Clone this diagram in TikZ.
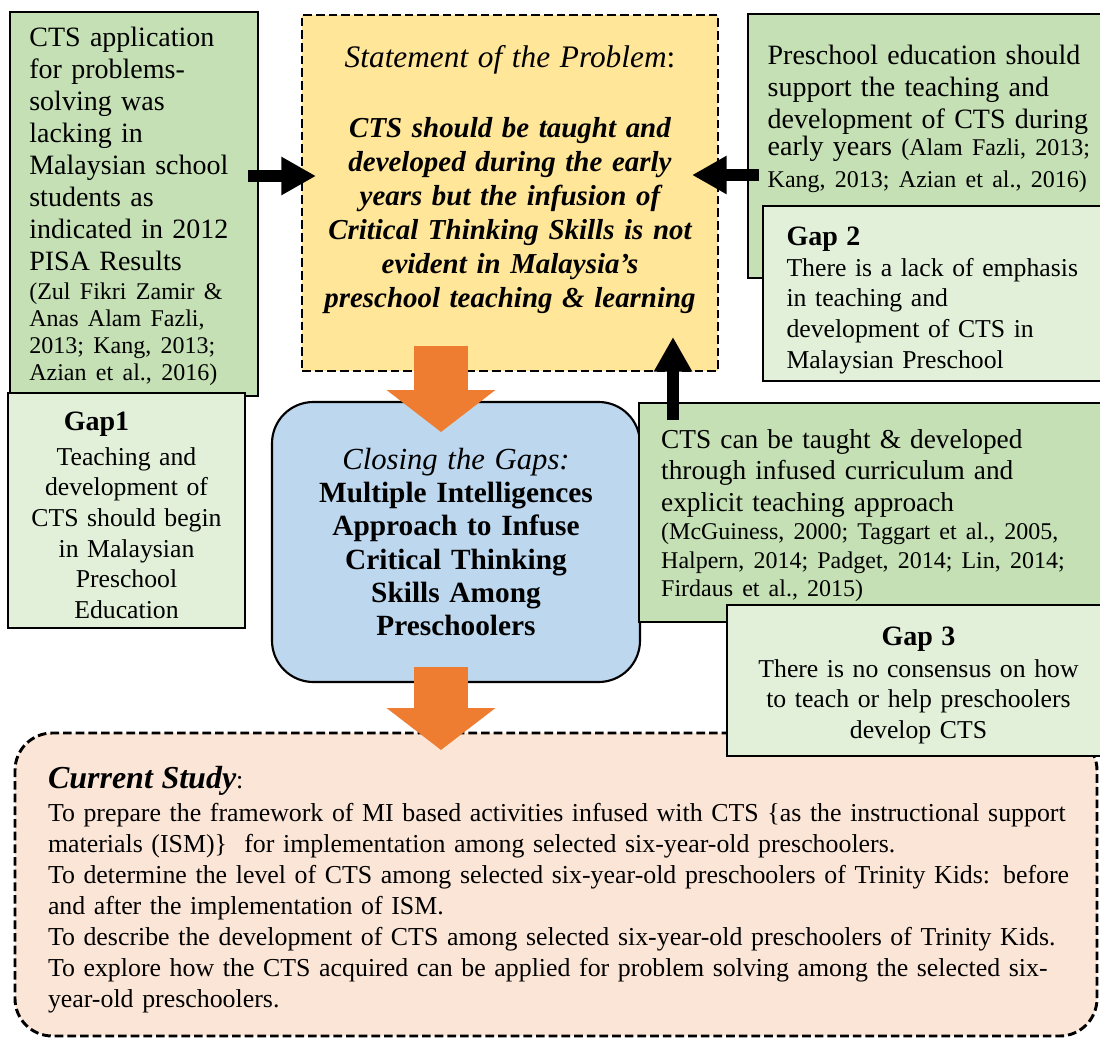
\documentclass[tikz,border=0pt]{standalone}
\usepackage{fontspec}
\setmainfont{Liberation Serif}
\usetikzlibrary{arrows.meta}

\definecolor{findgreen}{HTML}{C5E0B4}
\definecolor{gapgreen}{HTML}{E2F0D9}
\definecolor{problemyellow}{HTML}{FFE699}
\definecolor{closingblue}{HTML}{BDD7EE}
\definecolor{studypeach}{HTML}{FBE5D6}
\definecolor{arroworange}{HTML}{EE7D31}

\def\px{0.75pt}
\def\refsize{\fontsize{18}{20.25}\selectfont}
\def\headsize{\fontsize{21}{24}\selectfont\bfseries}

\begin{document}
\begin{tikzpicture}[x=0.75pt,y=-0.75pt]
    \tikzstyle{box}=[draw=black,line width=1.5pt,inner sep=0pt,outer sep=0pt,font=\fontsize{21}{24}\selectfont]
    \tikzstyle{finding box}=[box,fill=findgreen,align=left]
    \tikzstyle{gap box}=[box,fill=gapgreen,align=center,font=\fontsize{19.3}{23}\selectfont]
    \tikzstyle{dashed box}=[box,line width=2.2pt,dash pattern=on 6.5pt off 3pt]
    \tikzstyle{link}=[line width=9.5pt,-{Triangle[width=27pt,length=26pt]}]
    \tikzstyle{flow}=[draw=arroworange,line width=40pt,-{Triangle[width=80pt,length=31.5pt]}]

    \useasboundingbox (0,0) rectangle (1100,1039);
    \clip (0,0) rectangle (1100,1039);

    % The problem in the middle
    \node[dashed box,fill=problemyellow,minimum width=416*\px,minimum height=356*\px,
          text width=300pt,align=center,font=\fontsize{21.7}{25.5}\selectfont\bfseries\itshape] (problem) at (510,193)
        {{\fontsize{23.5}{28}\selectfont\mdseries Statement of the Problem\upshape:}\\[27pt]
         CTS should be taught and\\ developed during the early\\ years but the infusion of\\
         Critical Thinking Skills is not\\ evident in Malaysia's\\ preschool teaching \& learning\\ \mbox{}};

    % Left side: finding and gap 1
    \node[finding box,minimum width=248*\px,minimum height=384*\px,text width=157pt] (pisa) at (134,204)
        {CTS application\\ for problems-\\ solving was\\ lacking in\\ Malaysian school\\ students as\\
         indicated in 2012\\ PISA Results\par\vspace{2pt}
         \refsize (Zul Fikri Zamir \&\\ Anas Alam Fazli,\\ 2013; Kang, 2013;\\ Azian et al., 2016)\\[-23.75pt]\mbox{}};
    \node[gap box,minimum width=237*\px,minimum height=235*\px,text width=165pt] (gap1) at (126.5,510.5)
        {{\headsize\hspace*{-45pt}Gap1}\\[3pt]
         Teaching and\\ development of\\ CTS should begin\\ in Malaysian\\ Preschool\\ Education\\[-30pt]\mbox{}};

    % Right side: finding and gap 2
    \node[finding box,minimum width=362*\px,minimum height=264*\px,text width=242pt] (prek) at (929,146)
        {Preschool education should\\ support the teaching and\\ development of CTS during\\
         early years {\refsize(Alam Fazli, 2013;\\ Kang, 2013; Azian et al., 2016)}\\[20pt]\mbox{}};
    \node[gap box,minimum width=347*\px,minimum height=175*\px,text width=240pt,align=left] (gap2) at (936.5,293.5)
        {\leftskip=7.5pt{\headsize Gap 2}\\ There is a lack of emphasis\\ in teaching and\\
         development of CTS in\\ Malaysian Preschool\\[-29pt]\mbox{}\par};

    % Closing the gaps
    \node[box,fill=closingblue,rounded corners=31pt,line width=1.6pt,minimum width=368*\px,minimum height=280*\px,
          text width=260pt,align=center,font=\fontsize{22}{25}\selectfont\bfseries] (closing) at (456,542)
        {{\fontsize{23}{27}\selectfont\mdseries\itshape Closing the Gaps:}\\ Multiple Intelligences\\
         Approach to Infuse\\ Critical Thinking\\ Skills Among\\ Preschoolers};

    % Finding and gap 3
    \node[finding box,minimum width=471*\px,minimum height=219*\px,text width=320pt,
          font=\fontsize{20.5}{23.6}\selectfont] (infused) at (874.5,512.5)
        {CTS can be taught \& developed\\ through infused curriculum and\\ explicit teaching approach\par
         \fontsize{18}{21.4}\selectfont (McGuiness, 2000; Taggart et al., 2005,\\
         Halpern, 2014; Padget, 2014; Lin, 2014;\\ Firdaus et al., 2015)\\[-24.4pt]\mbox{}};

    % Current study
    \node[dashed box,fill=studypeach,rounded corners=28pt,minimum width=1082*\px,minimum height=303*\px,
          text width=800pt,align=left,font=\fontsize{19.4}{23.25}\selectfont] (study) at (556,884.5)
        {\leftskip=19pt{\fontsize{24}{27}\selectfont\bfseries\itshape Current Study}:\\[2pt]
         To prepare the framework of MI based activities infused with CTS \{as the instructional support\\
         materials (ISM)\}\ \ for implementation among selected six-year-old preschoolers.\\
         To determine the level of CTS among selected six-year-old preschoolers of Trinity Kids: before\\
         and after the implementation of ISM.\\
         To describe the development of CTS among selected six-year-old preschoolers of Trinity Kids.\\
         To explore how the CTS acquired can be applied for problem solving among the selected six-\\
         year-old preschoolers.\\[-27pt]\mbox{}\par};

    \node[gap box,minimum width=383*\px,minimum height=151*\px,text width=260pt] (gap3) at (918.5,680.5)
        {{\headsize Gap 3}\\[1pt] There is no consensus on how\\ to teach or help preschoolers\\ develop CTS\\[-26.2pt]\mbox{}};

    % Findings point at the problem
    \draw[link] ([shift={(-10,-28)}]pisa.east) -- ([shift={(14,-17)}]problem.west);
    \draw[link] ([shift={(11,29)}]prek.west) -- ([shift={(-26,-18)}]problem.east);
    \draw[link] ([shift={(34,17)}]infused.north west) -- ([shift={(-45,-34)}]problem.south east);

    % Problem -> closing the gaps -> current study
    \draw[flow] ([shift={(-69,-25)}]problem.south) -- ([shift={(-15,30)}]closing.north);
    \draw[flow] ([shift={(-15,-15)}]closing.south) -- ([shift={(-115,17)}]study.north);
\end{tikzpicture}
\end{document}
